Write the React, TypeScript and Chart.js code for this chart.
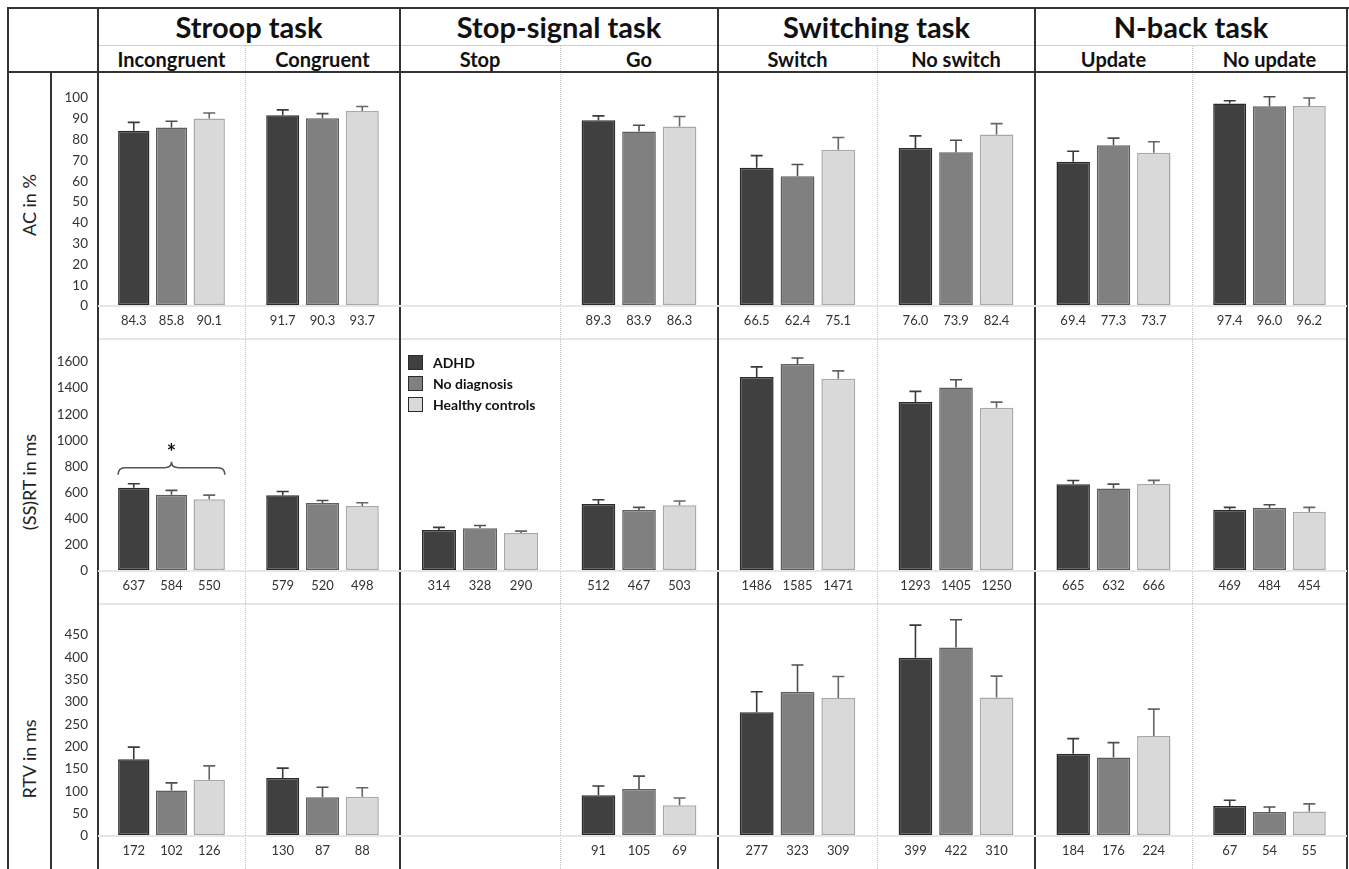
import React, { useEffect, useRef } from 'react';
import { Chart, registerables } from 'chart.js';

Chart.register(...registerables);

// ---------- data ----------
const TASKS = ['Stroop task', 'Stop-signal task', 'Switching task', 'N-back task'];
const CONDITIONS = ['Incongruent', 'Congruent', 'Stop', 'Go', 'Switch', 'No switch', 'Update', 'No update'];
const GROUPS = ['ADHD', 'No diagnosis', 'Healthy controls'];
const MEASURES = ['AC in %', '(SS)RT in ms', 'RTV in ms'];

// AC in %
const AC_ADHD = [84.3, 91.7, null, 89.3, 66.5, 76.0, 69.4, 97.4];
const AC_NODIAG = [85.8, 90.3, null, 83.9, 62.4, 73.9, 77.3, 96.0];
const AC_HC = [90.1, 93.7, null, 86.3, 75.1, 82.4, 73.7, 96.2];
const AC_ERR_ADHD = [4.0, 2.6, null, 2.1, 5.8, 5.8, 5.0, 1.3];
const AC_ERR_NODIAG = [3.0, 2.2, null, 3.0, 5.6, 5.8, 3.4, 4.6];
const AC_ERR_HC = [2.7, 2.2, null, 4.8, 5.9, 5.3, 5.3, 3.8];

// (SS)RT in ms
const RT_ADHD = [637, 579, 314, 512, 1486, 1293, 665, 469];
const RT_NODIAG = [584, 520, 328, 467, 1585, 1405, 632, 484];
const RT_HC = [550, 498, 290, 503, 1471, 1250, 666, 454];
const RT_ERR_ADHD = [31, 30, 20, 33, 77, 82, 28, 18];
const RT_ERR_NODIAG = [33, 20, 20, 20, 46, 59, 33, 23];
const RT_ERR_HC = [31, 25, 15, 33, 61, 43, 28, 33];

// RTV in ms
const RTV_ADHD = [172, 130, null, 91, 277, 399, 184, 67];
const RTV_NODIAG = [102, 87, null, 105, 323, 422, 176, 54];
const RTV_HC = [126, 88, null, 69, 309, 310, 224, 55];
const RTV_ERR_ADHD = [27, 22, null, 21, 46, 73, 34, 13];
const RTV_ERR_NODIAG = [17, 22, null, 29, 60, 62, 33, 11];
const RTV_ERR_HC = [31, 20, null, 16, 48, 48, 60, 17];

// axis settings per measure
const AXIS_MAX = [100, 1600, 450];
const AXIS_STEP = [10, 200, 50];
const VALUE_DECIMALS = [1, 0, 0];

// significance marker: [measure index, condition index, label]
const SIGNIFICANCE: [number, number, string][] = [[1, 0, '*']];

const VALUES = [
  [AC_ADHD, AC_NODIAG, AC_HC],
  [RT_ADHD, RT_NODIAG, RT_HC],
  [RTV_ADHD, RTV_NODIAG, RTV_HC],
];
const ERRORS = [
  [AC_ERR_ADHD, AC_ERR_NODIAG, AC_ERR_HC],
  [RT_ERR_ADHD, RT_ERR_NODIAG, RT_ERR_HC],
  [RTV_ERR_ADHD, RTV_ERR_NODIAG, RTV_ERR_HC],
];

// ---------- styling / layout ----------
const FILL = ['#404040', '#808080', '#d9d9d9'];
const EDGE = ['#2a2a2a', '#5e5e5e', '#a8a8a8'];
const ERR_COLOR = ['#3a3a3a', '#4f4f4f', '#666666'];
const FONT = 'Lato, "Noto Sans", sans-serif';

const COL_EDGES = [98, 245, 400, 560, 718, 877, 1035, 1192, 1347];
const ROW_LAYOUT = [
  { top: 72, bottom: 339, valueTop: 98, zero: 306, labelY: 205 },
  { top: 339, bottom: 604, valueTop: 362, zero: 571, labelY: 482 },
  { top: 604, bottom: 869, valueTop: 635, zero: 836, labelY: 759 },
];
const PAD_T = 22;
const PAD_B = 30;
const YAXIS_LEFT = 51;

// ---------- plugins ----------
const errorBarPlugin = {
  id: 'errorBars',
  afterDatasetsDraw(chart: any) {
    const { ctx } = chart;
    const y = chart.scales.y;
    chart.data.datasets.forEach((ds: any, i: number) => {
      const meta = chart.getDatasetMeta(i);
      meta.data.forEach((bar: any, j: number) => {
        const v = ds.data[j];
        const e = ds.errors ? ds.errors[j] : null;
        if (v == null || e == null) return;
        const yTop = y.getPixelForValue(v + e);
        ctx.save();
        ctx.strokeStyle = ds.errorColor;
        ctx.lineWidth = 1.6;
        ctx.beginPath();
        ctx.moveTo(bar.x, bar.y);
        ctx.lineTo(bar.x, yTop);
        ctx.moveTo(bar.x - 6, yTop);
        ctx.lineTo(bar.x + 6, yTop);
        ctx.stroke();
        ctx.restore();
      });
    });
  },
};

const valueLabelPlugin = {
  id: 'valueLabels',
  afterDatasetsDraw(chart: any, _args: any, opts: any) {
    const { ctx, chartArea } = chart;
    ctx.save();
    ctx.fillStyle = '#333';
    ctx.font = `13px ${FONT}`;
    ctx.textAlign = 'center';
    ctx.textBaseline = 'middle';
    chart.data.datasets.forEach((ds: any, i: number) => {
      const meta = chart.getDatasetMeta(i);
      meta.data.forEach((bar: any, j: number) => {
        const v = ds.data[j];
        if (v == null) return;
        ctx.fillText(Number(v).toFixed(opts.decimals || 0), bar.x, chartArea.bottom + 15);
      });
    });
    ctx.restore();
  },
};

const bracePlugin = {
  id: 'brace',
  afterDatasetsDraw(chart: any, _args: any, opts: any) {
    if (!opts || !opts.label) return;
    const { ctx } = chart;
    const y = chart.scales.y;
    const bars: any[] = [];
    let capTop = Infinity;
    chart.data.datasets.forEach((ds: any, i: number) => {
      const meta = chart.getDatasetMeta(i);
      const bar = meta.data[0];
      const v = ds.data[0];
      if (v == null) return;
      bars.push(bar);
      capTop = Math.min(capTop, y.getPixelForValue(v + (ds.errors ? ds.errors[0] || 0 : 0)));
    });
    if (!bars.length) return;
    const xl = bars[0].x - bars[0].width / 2;
    const xr = bars[bars.length - 1].x + bars[bars.length - 1].width / 2;
    const xm = (xl + xr) / 2;
    const yb = capTop - 9;
    const yh = capTop - 16;
    const yp = capTop - 22;
    const r = 7;
    ctx.save();
    ctx.strokeStyle = '#555';
    ctx.lineWidth = 1.6;
    ctx.beginPath();
    ctx.moveTo(xl, yb);
    ctx.quadraticCurveTo(xl, yh, xl + r, yh);
    ctx.lineTo(xm - r, yh);
    ctx.quadraticCurveTo(xm, yh, xm, yp);
    ctx.quadraticCurveTo(xm, yh, xm + r, yh);
    ctx.lineTo(xr - r, yh);
    ctx.quadraticCurveTo(xr, yh, xr, yb);
    ctx.stroke();
    ctx.fillStyle = '#111';
    ctx.font = `bold 22px ${FONT}`;
    ctx.textAlign = 'center';
    ctx.textBaseline = 'alphabetic';
    ctx.fillText(opts.label, xm, capTop - 24);
    ctx.restore();
  },
};

// ---------- components ----------
function BarCell({ row, col }: { row: number; col: number }) {
  const ref = useRef<HTMLCanvasElement | null>(null);
  const L = ROW_LAYOUT[row];
  const left = col === 0 ? YAXIS_LEFT : COL_EDGES[col];
  const width = COL_EDGES[col + 1] - left;
  const top = L.valueTop - PAD_T;
  const height = PAD_T + (L.zero - L.valueTop) + PAD_B;
  const sig = SIGNIFICANCE.find((s) => s[0] === row && s[1] === col);

  useEffect(() => {
    if (!ref.current) return;
    const chart = new Chart(ref.current, {
      type: 'bar',
      data: {
        labels: [CONDITIONS[col]],
        datasets: GROUPS.map((g, k) => ({
          label: g,
          data: [VALUES[row][k][col]],
          errors: [ERRORS[row][k][col]],
          errorColor: ERR_COLOR[k],
          backgroundColor: FILL[k],
          borderColor: EDGE[k],
          borderWidth: 1.5,
          borderSkipped: false,
          categoryPercentage: 0.77,
          barPercentage: 0.83,
        })) as any,
      },
      options: {
        responsive: false,
        animation: false,
        events: [],
        layout: { padding: { top: PAD_T, bottom: PAD_B, left: 0, right: 0 } },
        scales: {
          x: { display: false },
          y: {
            min: 0,
            max: AXIS_MAX[row],
            border: { display: false },
            grid: {
              drawTicks: false,
              lineWidth: 2,
              color: (ctx: any) => (ctx.tick && ctx.tick.value === 0 ? '#e6e6e6' : 'rgba(0,0,0,0)'),
            },
            ticks: {
              display: col === 0,
              stepSize: AXIS_STEP[row],
              padding: 10,
              color: '#333',
              font: { family: FONT, size: 13.5 },
              callback: (v: any) => String(v),
            },
            afterFit: (scale: any) => {
              scale.width = col === 0 ? COL_EDGES[0] - YAXIS_LEFT : 0;
            },
          },
        },
        plugins: {
          legend: { display: false },
          tooltip: { enabled: false },
          valueLabels: { decimals: VALUE_DECIMALS[row] },
          brace: { label: sig ? sig[2] : null },
        } as any,
      },
      plugins: [errorBarPlugin, valueLabelPlugin, bracePlugin],
    });
    return () => chart.destroy();
  }, [row, col]);

  return (
    <canvas
      ref={ref}
      width={width}
      height={height}
      style={{ position: 'absolute', left, top, width, height }}
    />
  );
}

function Line({ x, y, w, h, color, style }: any) {
  return (
    <div
      style={{
        position: 'absolute',
        left: x,
        top: y,
        width: w,
        height: h,
        background: style ? 'transparent' : color,
        borderLeft: style ? `1px ${style} ${color}` : undefined,
      }}
    />
  );
}

export default function App() {
  const frame = '#333';
  const taskBounds = TASKS.map((_, t) => [COL_EDGES[t * 2], COL_EDGES[t * 2 + 2]]);
  return (
    <div
      style={{
        position: 'absolute',
        left: 0,
        top: 0,
        width: 1349,
        height: 869,
        overflow: 'hidden',
        background: '#fff',
        fontFamily: FONT,
      }}
    >
      {/* light lines */}
      <Line x={98} y={45} w={1249} h={1} color="#d0d0d0" />
      <Line x={98} y={338} w={1249} h={2} color="#e6e6e6" />
      <Line x={98} y={603} w={1249} h={2} color="#e6e6e6" />
      {[1, 3, 5, 7].map((c) => (
        <Line key={'d' + c} x={COL_EDGES[c]} y={46} w={0} h={823} color="#c4c4c4" style="dotted" />
      ))}

      {/* frame */}
      <Line x={7} y={7} w={1342} h={2} color={frame} />
      <Line x={7} y={7} w={2} h={862} color={frame} />
      <Line x={1346} y={7} w={2} h={862} color={frame} />
      <Line x={7} y={71} w={1341} h={2} color={frame} />
      <Line x={50} y={72} w={2} h={797} color={frame} />
      {[0, 2, 4, 6].map((c) => (
        <Line key={'t' + c} x={COL_EDGES[c] - 1} y={7} w={2} h={862} color={frame} />
      ))}

      {/* task headers */}
      {TASKS.map((t, i) => (
        <div
          key={t}
          style={{
            position: 'absolute',
            left: taskBounds[i][0],
            width: taskBounds[i][1] - taskBounds[i][0],
            top: 8,
            height: 37,
            display: 'flex',
            alignItems: 'center',
            justifyContent: 'center',
            fontWeight: 700,
            fontSize: 29,
            color: '#111',
            whiteSpace: 'nowrap',
          }}
        >
          {t}
        </div>
      ))}
      {CONDITIONS.map((c, i) => (
        <div
          key={c}
          style={{
            position: 'absolute',
            left: COL_EDGES[i],
            width: COL_EDGES[i + 1] - COL_EDGES[i],
            top: 46,
            height: 25,
            display: 'flex',
            alignItems: 'center',
            justifyContent: 'center',
            fontWeight: 700,
            fontSize: 20,
            color: '#111',
            whiteSpace: 'nowrap',
          }}
        >
          {c}
        </div>
      ))}

      {/* row labels */}
      {MEASURES.map((m, r) => (
        <div
          key={m}
          style={{
            position: 'absolute',
            left: 29 - 80,
            top: ROW_LAYOUT[r].labelY - 12,
            width: 160,
            height: 24,
            lineHeight: '24px',
            textAlign: 'center',
            transform: 'rotate(-90deg)',
            fontSize: 18,
            color: '#222',
            whiteSpace: 'nowrap',
          }}
        >
          {m}
        </div>
      ))}

      {/* charts */}
      {MEASURES.map((_, r) =>
        CONDITIONS.map((__, c) => <BarCell key={r + '-' + c} row={r} col={c} />)
      )}

      {/* legend */}
      {GROUPS.map((g, k) => (
        <div
          key={g}
          style={{
            position: 'absolute',
            left: 408,
            top: 354 + k * 21,
            height: 16,
            display: 'flex',
            alignItems: 'center',
            fontWeight: 700,
            fontSize: 14,
            color: '#111',
            whiteSpace: 'nowrap',
          }}
        >
          <span
            style={{
              display: 'inline-block',
              width: 13,
              height: 13,
              background: FILL[k],
              border: '1.5px solid #2a2a2a',
              marginRight: 10,
            }}
          />
          {g}
        </div>
      ))}
    </div>
  );
}
